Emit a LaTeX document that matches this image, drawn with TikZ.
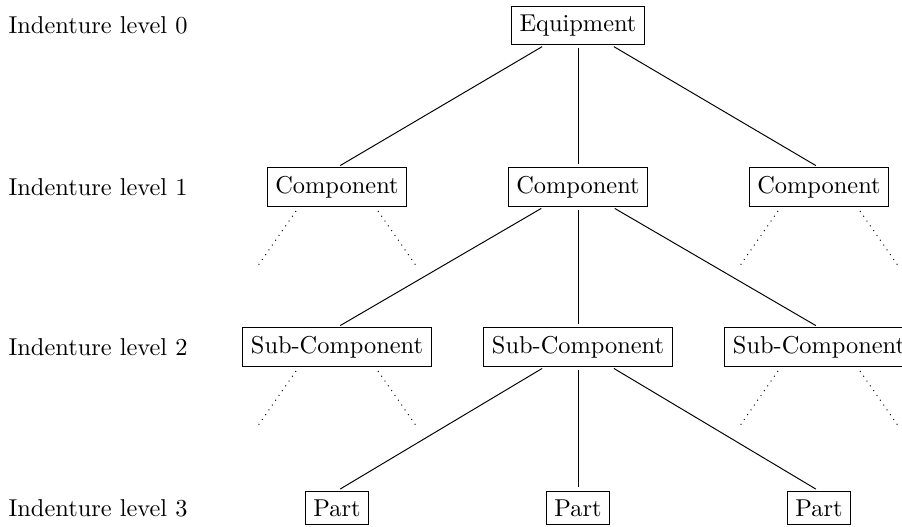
\documentclass[tikz,border=0pt]{standalone}
\usetikzlibrary{calc}
\begin{document}
\begin{tikzpicture}[x=0.41pt,y=-0.41pt,
  box/.style={draw,inner sep=3.33pt,line width=0.4pt},
  lbl/.style={anchor=west,inner sep=3.33pt},
  conn/.style={shorten <=1.5pt,shorten >=1.5pt},
  stub/.style={dotted}]
\useasboundingbox (0,0) rectangle (902,526);
% rows
\node[box] (e)  at (578,25.5) {Equipment};
\node[box] (c1) at (337,187) {Component};
\node[box] (c2) at (578,187) {Component};
\node[box] (c3) at (819,187) {Component};
\node[box] (s1) at (337,347) {Sub-Component};
\node[box] (s2) at (578,347) {Sub-Component};
\node[box] (s3) at (819,347) {Sub-Component};
\node[box] (p1) at (337,508) {Part};
\node[box] (p2) at (578,508) {Part};
\node[box] (p3) at (819,508) {Part};
% labels
\node[lbl] (l0) at (0,25.5) {Indenture level 0};
\node[lbl] (l1) at (0,187) {Indenture level 1};
\node[lbl] (l2) at (0,347) {Indenture level 2};
\node[lbl] (l3) at (0,508) {Indenture level 3};
% connectors
\foreach \c in {c1,c2,c3} \draw[conn] (e) -- (\c.north);
\foreach \c in {s1,s2,s3} \draw[conn] (c2) -- (\c.north);
\foreach \c in {p1,p2,p3} \draw[conn] (s2) -- (\c.north);
% dotted stubs
\foreach \n in {c1,c3,s1,s3} {
  \coordinate (\n la) at ($(\n)+(-41,24)$);
  \coordinate (\n lb) at ($(\n)+(-80,80)$);
  \coordinate (\n ra) at ($(\n)+(41,24)$);
  \coordinate (\n rb) at ($(\n)+(80,80)$);
  \draw[stub] (\n la) -- (\n lb);
  \draw[stub] (\n ra) -- (\n rb);
}
\end{tikzpicture}
\end{document}
